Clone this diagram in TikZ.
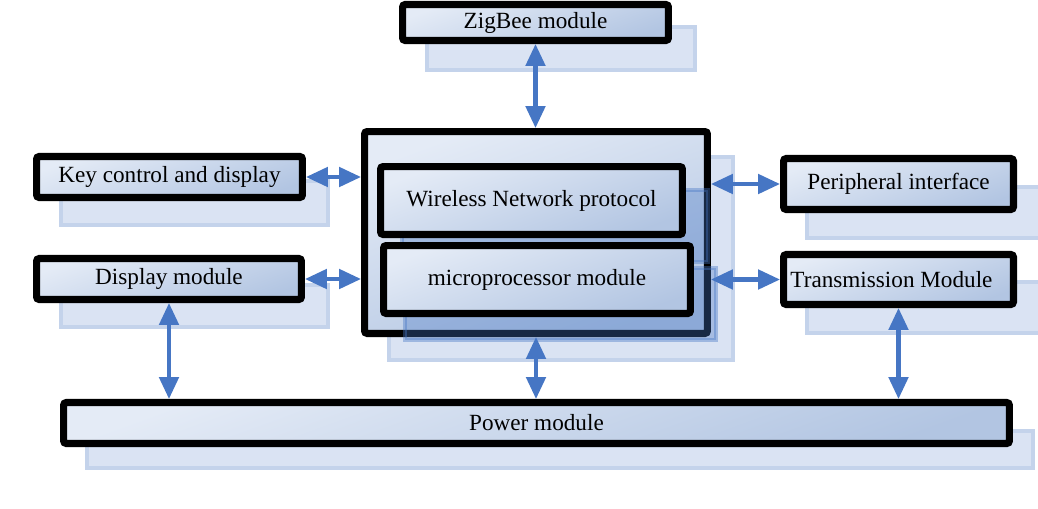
\documentclass[tikz,border=0pt]{standalone}
\usepackage{fontspec}
\setmainfont{Liberation Serif}
\usetikzlibrary{arrows.meta,positioning}
\definecolor{linkblue}{RGB}{70,118,196}
\definecolor{boxlight}{RGB}{228,235,246}
\definecolor{boxdark}{RGB}{178,197,226}
\definecolor{shadefill}{RGB}{218,227,243}
\definecolor{shadeline}{RGB}{196,211,235}

\begin{document}
\begin{tikzpicture}[x=0.02cm, y=-0.02cm,
  module/.style={rectangle, draw=black, line width=4pt, rounded corners=1.5pt,
    top color=boxlight, bottom color=boxdark, shading angle=20, inner sep=0pt,
    font=\fontsize{13.2}{15}\selectfont},
  shadebox/.style={fill=shadefill, draw=shadeline, line width=2.3pt},
  innershade/.style={fill=linkblue, fill opacity=0.35, draw=linkblue, draw opacity=0.4, line width=2pt},
  link/.style={draw=linkblue, line width=2.3pt, >={Triangle[length=12.5pt,width=11pt]}, <->}]
\useasboundingbox (0,0) rectangle (1038,508);

% shadows
\draw [shadebox] (427,27) rectangle (695,70);
\draw [shadebox] (61,181) rectangle (328,225);
\draw [shadebox] (61,285) rectangle (328,327);
\draw [shadebox] (389,157) rectangle (733,360);
\draw [shadebox] (807,187) rectangle (1045,238);
\draw [shadebox] (807,282) rectangle (1045,333);
\draw [shadebox] (87,431) rectangle (1033,468);

% core
\node [module, minimum width=6.86cm, minimum height=4.04cm] (main) at (536,232.5) {};
\draw [innershade] (402,190) rectangle (708,262);
\draw [innershade] (405,268) rectangle (716,340);
\node [module, minimum width=6.04cm, minimum height=1.36cm] (wnp) at (531.5,200.5) {Wireless Network protocol};
\node [module, minimum width=6.14cm, minimum height=1.36cm] (micro) at (537,279.5) {microprocessor module};

% outer modules
\node [module, minimum width=5.32cm, minimum height=0.72cm] (zig) at (535.5,22.5) {ZigBee module};
\node [module, minimum width=5.32cm, minimum height=0.82cm] (key) at (169.5,177) {Key control and display};
\node [module, minimum width=5.3cm, minimum height=0.82cm] (disp) at (169,279) {Display module};
\node [module, minimum width=4.6cm, minimum height=1.02cm] (peri) at (898.5,184) {Peripheral interface};
\node [module, minimum width=4.6cm, minimum height=1cm] (trans) at (898.5,279.5) {\hspace*{-8pt}Transmission Module};
\node [module, minimum width=18.92cm, minimum height=0.82cm] (power) at (536.5,423) {Power module};

% links
\draw [link] (zig.south) -- (zig.south |- main.north);
\draw [link] (key.east) -- (key.east -| main.west);
\draw [link] (disp.east) -- (disp.east -| main.west);
\draw [link] (main.east |- peri.west) -- (peri.west);
\draw [link] (main.east |- trans.west) -- (trans.west);
\draw [link] (disp.south) -- (disp.south |- power.north);
\draw [link] (main.south) -- (main.south |- power.north);
\draw [link] (trans.south) -- (trans.south |- power.north);

\end{tikzpicture}
\end{document}
